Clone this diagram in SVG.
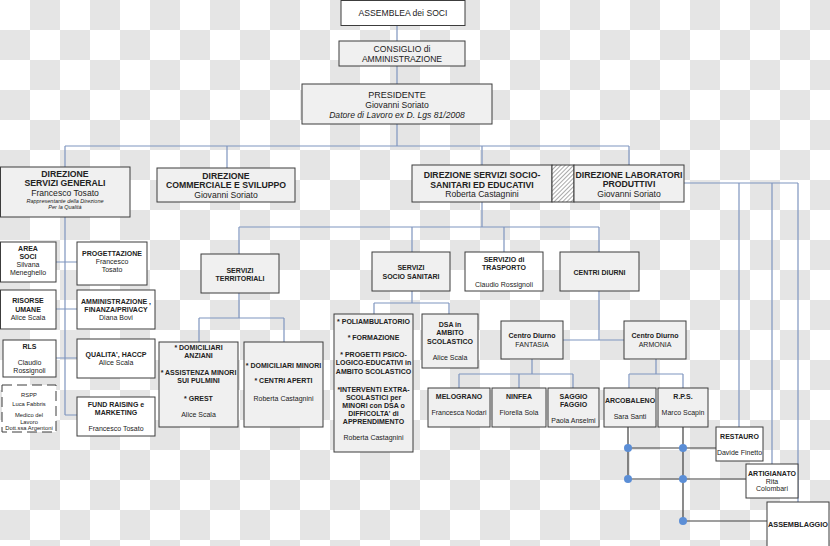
<svg xmlns="http://www.w3.org/2000/svg" width="830" height="546" viewBox="0 0 830 546">
<defs>
<pattern id="chk" width="60" height="60" patternUnits="userSpaceOnUse"><rect width="60" height="60" fill="#ffffff"/><rect x="30" y="0" width="30" height="30" fill="#e5e5e5"/><rect x="0" y="30" width="30" height="30" fill="#e5e5e5"/></pattern>
<pattern id="hatch" width="3" height="3" patternUnits="userSpaceOnUse" patternTransform="rotate(45)"><rect width="3" height="3" fill="#ffffff"/><line x1="0" y1="0" x2="0" y2="3" stroke="#555" stroke-width="1"/></pattern>
<style>
.b{fill:#f0f0f0;stroke:#3c3c3c;stroke-width:1}
.w{fill:#ffffff;stroke:#3c3c3c;stroke-width:1}
.c{stroke:#7f95bf;fill:none;stroke-width:1.2}
.d{stroke:#404040;fill:none;stroke-width:1.2}
.dot{fill:#5b8ed6}
text{font-family:"Liberation Sans",Arial,sans-serif;fill:#222;text-anchor:middle}
.h{font-size:8.7px;font-weight:bold}
.n{font-size:8.6px}
.s{font-size:7px;font-weight:bold}
.r{font-size:7px}
.i{font-size:5.5px;font-style:italic}
.t{font-size:5.8px}
</style>
</defs>
<rect width="830" height="546" fill="url(#chk)"/>

<g id="connectors">
<path class="c" d="M397,25V41M397,66V84M397,124V146M65,146H629M65,146V167M227,146V168M482,146V165M629,146V165"/>
<path class="c" d="M65,217V415M56,262H77M56,309H77M56,358H77M65,415H77"/>
<path class="c" d="M482,202V227M239,227H599M239,227V254M412,227V252M504,227V252M599,227V252"/>
<path class="c" d="M239,293V318M199,318H284M199,318V342M284,318V342"/>
<path class="c" d="M412,291V303M374,303H449M374,303V314M449,303V314"/>
<path class="c" d="M599,291V340M563,340H624"/>
<path class="c" d="M532,359V374M459,374H573M459,374V388M519,374V388M573,374V388"/>
<path class="c" d="M656,359V374M629,374H683M629,374V388M683,374V388"/>
<path class="c" d="M684,183H798M739,183V427M772,183V464M798,183V502"/>
<path class="d" d="M628,427V479M683,427V521M628,448H716M628,479H746M683,521H767"/>
<circle class="dot" cx="628" cy="448" r="4"/>
<circle class="dot" cx="683" cy="448" r="4"/>
<circle class="dot" cx="628" cy="479" r="4"/>
<circle class="dot" cx="683" cy="479" r="4"/>
<circle class="dot" cx="683" cy="521" r="4"/>
</g>

<g id="assemblea"><rect class="w" x="341" y="0.5" width="124" height="25"/><text class="n" x="403" y="16">ASSEMBLEA dei SOCI</text></g>
<g id="consiglio"><rect class="b" x="339" y="41" width="126" height="25"/><text class="n" x="402" y="51.5">CONSIGLIO di</text><text class="n" x="402" y="62">AMMINISTRAZIONE</text></g>
<g id="presidente"><rect class="b" x="302" y="84" width="190" height="40"/><text class="n" x="397" y="97.5" style="font-size:9px">PRESIDENTE</text><text class="n" x="397" y="107.5">Giovanni Soriato</text><text class="n" x="397" y="117.5" style="font-style:italic">Datore di Lavoro ex D. Lgs 81/2008</text></g>

<g id="dir-generali"><rect class="b" x="0.5" y="167" width="129.5" height="50"/><text class="h" x="65" y="176.5">DIREZIONE</text><text class="h" x="65" y="186">SERVIZI GENERALI</text><text class="n" x="65" y="195.5">Francesco Tosato</text><text class="i" x="65" y="203.3">Rappresentante della Direzione</text><text class="i" x="65" y="208.7">Per la Qualità</text></g>
<g id="dir-commerciale"><rect class="b" x="157" y="168" width="138" height="34"/><text class="h" x="226" y="178.5">DIREZIONE</text><text class="h" x="226" y="188">COMMERCIALE E SVILUPPO</text><text class="n" x="226" y="197.7">Giovanni Soriato</text></g>
<g id="dir-socio"><rect class="b" x="412" y="165" width="140" height="37"/><text class="h" x="482" y="178">DIREZIONE SERVIZI SOCIO-</text><text class="h" x="482" y="187.5">SANITARI ED EDUCATIVI</text><text class="n" x="482" y="196.5">Roberta Castagnini</text></g>
<g id="hatch-area"><rect x="552" y="165" width="22" height="37" fill="url(#hatch)" stroke="#3c3c3c"/></g>
<g id="dir-laboratori"><rect class="b" x="574" y="165" width="110" height="37"/><text class="h" x="629" y="177.5">DIREZIONE LABORATORI</text><text class="h" x="629" y="187">PRODUTTIVI</text><text class="n" x="629" y="196.5">Giovanni Soriato</text></g>

<g id="area-soci"><rect class="w" x="0.5" y="242" width="55.5" height="40"/><text class="s" x="28" y="251">AREA</text><text class="s" x="28" y="258.8">SOCI</text><text class="r" x="28" y="267">Silvana</text><text class="r" x="28" y="275">Meneghello</text></g>
<g id="progettazione"><rect class="w" x="77" y="242" width="70" height="43"/><text class="s" x="112" y="256">PROGETTAZIONE</text><text class="r" x="112" y="264.3">Francesco</text><text class="r" x="112" y="272.3">Tosato</text></g>
<g id="risorse-umane"><rect class="w" x="0.5" y="290" width="55.5" height="39"/><text class="s" x="28" y="303">RISORSE</text><text class="s" x="28" y="311.5">UMANE</text><text class="r" x="28" y="320">Alice Scala</text></g>
<g id="amministrazione"><rect class="w" x="77" y="290" width="78" height="39"/><text class="s" x="116" y="303.5">AMMINISTRAZIONE ,</text><text class="s" x="116" y="312">FINANZA/PRIVACY</text><text class="r" x="116" y="320.3">Diana Bovi</text></g>
<g id="rls"><rect class="w" x="3" y="340" width="53" height="37"/><text class="s" x="29.5" y="349">RLS</text><text class="r" x="29.5" y="365">Claudio</text><text class="r" x="29.5" y="373">Rossignoli</text></g>
<g id="qualita"><rect class="w" x="77" y="339" width="78" height="39"/><text class="s" x="116" y="357">QUALITA', HACCP</text><text class="r" x="116" y="365">Alice Scala</text></g>
<g id="rspp"><rect x="2" y="385" width="54" height="47" fill="#fff" stroke="#3c3c3c" stroke-dasharray="10,5"/><text class="t" x="29" y="397.3">RSPP</text><text class="t" x="29" y="405.5">Luca Fabbris</text><text class="t" x="29" y="417">Medico del</text><text class="t" x="29" y="424">Lavoro</text><text class="t" x="29" y="430.3">Dott.ssa Argentoni</text></g>
<g id="fund-raising"><rect class="w" x="77" y="397" width="78" height="39"/><text class="s" x="116" y="406.5">FUND RAISING e</text><text class="s" x="116" y="415">MARKETING</text><text class="r" x="116" y="431">Francesco Tosato</text></g>

<g id="servizi-territoriali"><rect class="b" x="201" y="254" width="78" height="39"/><text class="s" x="240" y="272.5">SERVIZI</text><text class="s" x="240" y="281">TERRITORIALI</text></g>
<g id="servizi-sociosanitari"><rect class="b" x="372" y="252" width="78" height="39"/><text class="s" x="411" y="270">SERVIZI</text><text class="s" x="411" y="278.5">SOCIO SANITARI</text></g>
<g id="trasporto"><rect class="w" x="465" y="252" width="78" height="39"/><text class="s" x="504" y="261.5">SERVIZIO di</text><text class="s" x="504" y="270">TRASPORTO</text><text class="r" x="504" y="286.5">Claudio Rossignoli</text></g>
<g id="centri-diurni"><rect class="b" x="560" y="252" width="79" height="39"/><text class="s" x="599.5" y="275">CENTRI DIURNI</text></g>

<g id="domiciliari-anziani"><rect class="b" x="159" y="342" width="79" height="85"/><text class="s" x="198.5" y="350">* DOMICILIARI</text><text class="s" x="198.5" y="358.3">ANZIANI</text><text class="s" x="198.5" y="375">* ASSISTENZA MINORI</text><text class="s" x="198.5" y="383.3">SUI PULMINI</text><text class="s" x="198.5" y="401">* GREST</text><text class="r" x="198.5" y="417">Alice Scala</text></g>
<g id="domiciliari-minori"><rect class="b" x="244" y="342" width="79" height="85"/><text class="s" x="283.5" y="368">* DOMICILIARI MINORI</text><text class="s" x="283.5" y="383.3">* CENTRI APERTI</text><text class="r" x="283.5" y="401">Roberta Castagnini</text></g>
<g id="poliambulatorio"><rect class="b" x="334" y="314" width="79" height="138"/><text class="s" x="373.5" y="324.3">* POLIAMBULATORIO</text><text class="s" x="373.5" y="340">* FORMAZIONE</text><text class="s" x="373.5" y="356.7">* PROGETTI PSICO-</text><text class="s" x="373.5" y="365">LOGICO-EDUCATIVI in</text><text class="s" x="373.5" y="373.5">AMBITO SCOLASTICO</text><text class="s" x="373.5" y="392">*INTERVENTI EXTRA-</text><text class="s" x="373.5" y="400">SCOLASTICI per</text><text class="s" x="373.5" y="408">MINORI con DSA o</text><text class="s" x="373.5" y="416">DIFFICOLTA' di</text><text class="s" x="373.5" y="424.3">APPRENDIMENTO</text><text class="r" x="373.5" y="440">Roberta Castagnini</text></g>
<g id="dsa"><rect class="b" x="422" y="314" width="56" height="54"/><text class="s" x="450" y="327">DSA in</text><text class="s" x="450" y="335.3">AMBITO</text><text class="s" x="450" y="343.7">SCOLASTICO</text><text class="r" x="450" y="360.3">Alice Scala</text></g>
<g id="fantasia"><rect class="b" x="501" y="321" width="62" height="38"/><text class="s" x="532" y="338.3">Centro Diurno</text><text class="r" x="532" y="346.7">FANTASIA</text></g>
<g id="armonia"><rect class="b" x="624" y="321" width="62" height="38"/><text class="s" x="655" y="338.3">Centro Diurno</text><text class="r" x="655" y="346.7">ARMONIA</text></g>
<g id="melograno"><rect class="b" x="428" y="388" width="62" height="39"/><text class="s" x="459" y="398.5">MELOGRANO</text><text class="r" x="459" y="415">Francesca Nodari</text></g>
<g id="ninfea"><rect class="b" x="492" y="388" width="54" height="39"/><text class="s" x="519" y="398.5">NINFEA</text><text class="r" x="519" y="415">Fiorella Sola</text></g>
<g id="saggio-faggio"><rect class="b" x="548" y="388" width="51" height="39"/><text class="s" x="573.5" y="398.5">SAGGIO</text><text class="s" x="573.5" y="406.7">FAGGIO</text><text class="r" x="573.5" y="423">Paola Anselmi</text></g>
<g id="arcobaleno"><rect class="b" x="604" y="388" width="52" height="39"/><text class="s" x="630" y="402.5">ARCOBALENO</text><text class="r" x="630" y="418.5">Sara Santi</text></g>
<g id="rps"><rect class="b" x="658" y="388" width="50" height="39"/><text class="s" x="683" y="398.5">R.P.S.</text><text class="r" x="683" y="414.5">Marco Scapin</text></g>
<g id="restauro"><rect class="w" x="716" y="427" width="47" height="34"/><text class="s" x="739.5" y="438.5">RESTAURO</text><text class="r" x="739.5" y="455">Davide Finetto</text></g>
<g id="artigianato"><rect class="w" x="746" y="464" width="52" height="34"/><text class="s" x="772" y="476">ARTIGIANATO</text><text class="r" x="772" y="483.7">Rita</text><text class="r" x="772" y="491.3">Colombari</text></g>
<g id="assemblaggio"><rect class="w" x="767" y="502" width="62" height="50"/><text class="s" x="798" y="526.5" style="font-size:7.3px">ASSEMBLAGGIO</text></g>
</svg>
